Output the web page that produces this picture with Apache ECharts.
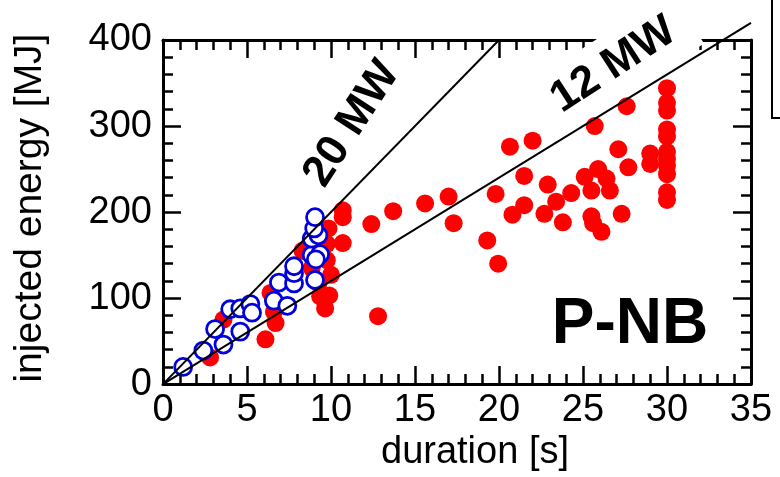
<!DOCTYPE html>
<html>
<head>
<meta charset="utf-8">
<script src="https://cdn.jsdelivr.net/npm/echarts@6/dist/echarts.min.js"></script>
<style>
html,body{margin:0;padding:0;background:#fff;}
#chart{width:780px;height:477px;}
</style>
</head>
<body>
<div id="chart"></div>
<script>
// duration [s], injected energy [MJ]
const redDuration = [2.8,3.6,6.1,6.7,6.6,6.4,8.3,8.85,9.25,9.35,9.65,9.9,10.0,9.75,9.75,9.85,10.7,10.7,10.7,12.4,12.8,13.7,15.6,17.0,17.3,19.3,19.95,19.8,20.65,20.8,21.5,21.5,22.0,22.7,22.9,23.4,23.8,24.3,25.1,25.5,25.5,25.6,25.7,25.9,26.1,26.4,26.6,27.1,27.3,27.6,27.7,29.0,29.0,30,30,30,30,30,30,30,30,30,30,30];
const redEnergy   = [31,75,52,71,84,106,155,135,117,102,88,103,127,144,163,181,202,194,164,186,79,201,210,218,187,167,140,221,276,197,242,208,283,198,232,212,188,222,241,225,195,187,300,250,177,239,225,273,198,323,252,268,256,344,327,318,296,288,270,262,254,244,223,214];
const blueDuration = [1.2,2.4,3.1,3.6,4.0,4.6,4.6,5.2,5.3,6.6,7.4,6.9,7.8,7.8,7.8,9.05,8.85,9.35,9.1,8.85,9.25,9.0,9.05];
const blueEnergy   = [20,39,64,46,87,88,61,93,83,97,91,118,117,129,137,121,150,151,145,169,173,181,194];
// constant power lines: energy = power * duration
const line20MW = [[0,0],[20,400]];
const line12MW = [[0,0],[35,420]];
const xRange = [0,35,5];
const yRange = [0,400,100];

const zip = (a,b) => a.map((v,i)=>[v,b[i]]);
const FONT = '"Liberation Sans", Arial, sans-serif';
const chart = echarts.init(document.getElementById('chart'), null, {renderer:'canvas'});

function xAx(pos, labels){
  return {
    type:'value', position:pos, min:xRange[0], max:xRange[1], interval:xRange[2],
    axisLine:{show:true, onZero:false, lineStyle:{color:'#000', width:3}},
    axisTick:{show:true, inside:true, length:18, lineStyle:{color:'#000', width:2.5}},
    minorTick:{show:true, splitNumber:5, length:10, lineStyle:{color:'#000', width:2.5}},
    splitLine:{show:false},
    axisLabel:{show:labels, margin:7, color:'#000', fontSize:38, fontFamily:FONT},
    name: labels ? 'duration [s]' : '',
    nameLocation:'middle', nameGap:48,
    nameTextStyle:{color:'#000', fontSize:38, fontFamily:FONT, padding:[0,0,0,36]}
  };
}
function yAx(pos, labels){
  return {
    type:'value', position:pos, min:yRange[0], max:yRange[1], interval:yRange[2],
    axisLine:{show:true, onZero:false, lineStyle:{color:'#000', width:3}},
    axisTick:{show:true, inside:true, length:18, lineStyle:{color:'#000', width:2.5}},
    minorTick:{show:true, splitNumber:5, length:10, lineStyle:{color:'#000', width:2.5}},
    splitLine:{show:false},
    axisLabel:{show:labels, margin:11, color:'#000', fontSize:38, fontFamily:FONT},
    name: labels ? 'injected energy [MJ]' : '',
    nameLocation:'middle', nameGap:113,
    nameTextStyle:{color:'#000', fontSize:39, fontFamily:FONT, padding:[0,0,0,8]}
  };
}

chart.setOption({
  animation:false,
  backgroundColor:'#fff',
  grid:{left:163, right:29, top:40, bottom:89},
  xAxis:[xAx('bottom', true), xAx('top', false)],
  yAxis:[yAx('left', true), yAx('right', false)],
  legend:{
    orient:'vertical', left:772, top:-40, padding:[60,10,60,10],
    borderColor:'#000', borderWidth:2, backgroundColor:'#fff',
    data:['P-NB','N-NB'], textStyle:{fontSize:14}
  },
  series:[
    {name:'P-NB', type:'scatter', data:zip(redDuration, redEnergy), symbol:'circle', symbolSize:18,
     itemStyle:{color:'#ff0000', opacity:1}, z:2},
    {name:'N-NB', type:'scatter', data:zip(blueDuration, blueEnergy), symbol:'circle', symbolSize:17,
     itemStyle:{color:'#ffffff', borderColor:'#0000dd', borderWidth:2.8, opacity:1}, z:3},
    {name:'20 MW', type:'line', data:line20MW, symbol:'none', silent:true, clip:false,
     lineStyle:{color:'#000', width:2}, z:4},
    {name:'12 MW', type:'line', data:line12MW, symbol:'none', silent:true, clip:false,
     lineStyle:{color:'#000', width:2}, z:4}
  ],
  graphic:[
    {type:'text', x:630, y:325, z:100, style:{text:'P-NB', font:'bold 64px '+FONT, fill:'#000', align:'center', verticalAlign:'middle'}},
    {type:'text', x:352, y:124, rotation:57*Math.PI/180, z:100, style:{text:'20 MW', font:'bold 44px '+FONT, fill:'#000', align:'center', verticalAlign:'middle'}},
    {type:'text', x:617, y:63, rotation:33*Math.PI/180, z:100, style:{text:'12 MW', font:'bold 44px '+FONT, fill:'#000', align:'center', verticalAlign:'middle', backgroundColor:'#fff', padding:[12,18,6,10]}}
  ]
});
</script>
</body>
</html>
